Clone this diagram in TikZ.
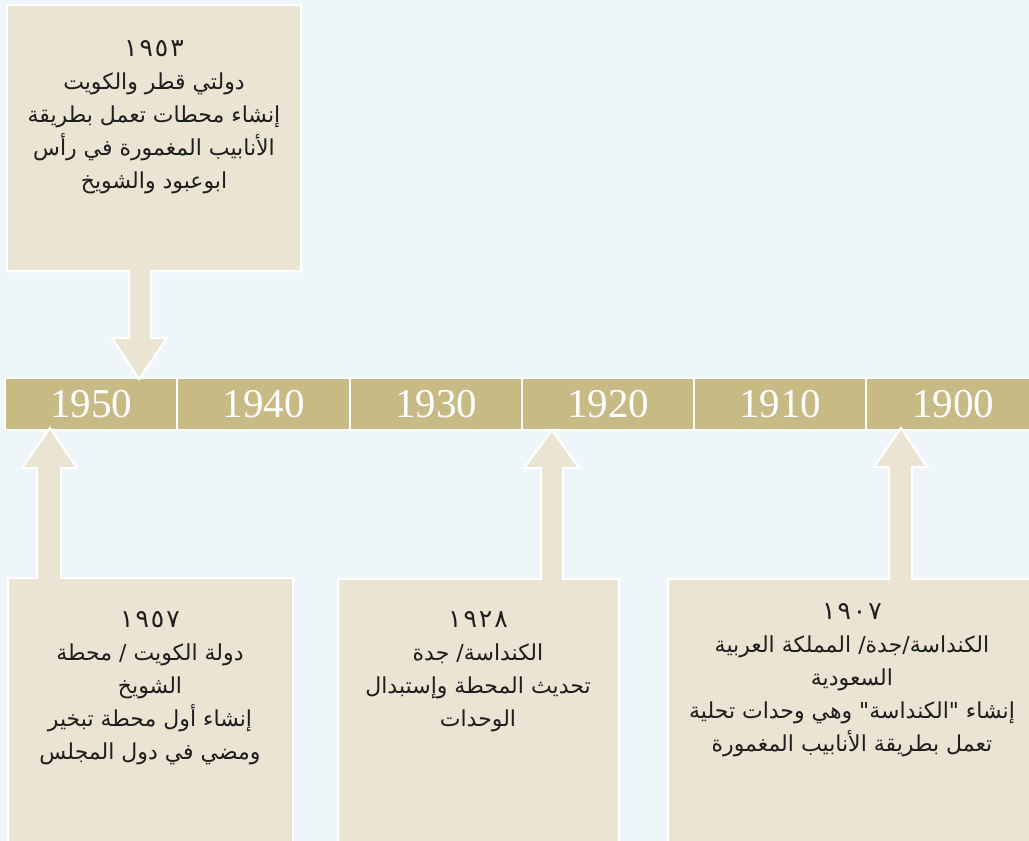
\documentclass[tikz,border=0pt]{standalone}
\usepackage{fontspec}
\TeXXeTstate=1
\newfontfamily\arabicfont[Script=Arabic]{DejaVu Sans}
\newfontfamily\yearfont{Liberation Serif}
\definecolor{bgc}{HTML}{EFF6FA}
\definecolor{boxc}{HTML}{EBE4D3}
\definecolor{barc}{HTML}{C8BA85}
\definecolor{txtc}{HTML}{1E1E1E}
\tikzset{
  seg/.style={draw=white, line width=2pt, fill=barc, inner sep=0pt, text=white,
    minimum height=52pt, font=\yearfont\fontsize{41}{41}\selectfont},
  callout/.style={fill=boxc, draw=white, line width=2pt, line join=miter},
  ar/.style={align=center, text=txtc, inner sep=0pt, font=\arabicfont\fontsize{22}{33}\selectfont}
}
\newcommand{\rl}[1]{\beginR #1\endR}
\newcommand{\yr}[1]{{\fontsize{25}{33}\selectfont\addfontfeatures{LetterSpace=8}#1}}
\begin{document}
\begin{tikzpicture}[x=1pt,y=-1pt]
\useasboundingbox (0,0) rectangle (1029,841);
\fill[bgc] (0,0) rectangle (1029,841);
\clip (0,0) rectangle (1029,841);
% timeline bar
\node[seg, minimum width=172pt] (s1950) at (91,404) {\raisebox{-2.5pt}{1950}};
\node[seg, minimum width=173pt] (s1940) at (263.5,404) {\raisebox{-2.5pt}{1940}};
\node[seg, minimum width=172pt] (s1930) at (436,404) {\raisebox{-2.5pt}{1930}};
\node[seg, minimum width=172pt] (s1920) at (608,404) {\raisebox{-2.5pt}{1920}};
\node[seg, minimum width=172pt] (s1910) at (780,404) {\raisebox{-2.5pt}{1910}};
\node[seg, minimum width=174pt] (s1900) at (953,404) {\raisebox{-2.5pt}{1900}};
% top callout with down arrow
\draw[callout] (7,5) -- (301,5) -- (301,271) -- (151,271) -- (151,338) -- (167,338)
  -- (139,379) -- (112,338) -- (129,338) -- (129,271) -- (7,271) -- cycle;
% bottom callouts with up arrows
\draw[callout] (8,578) -- (37,578) -- (37,468) -- (22,468) -- (50,428) -- (77,468)
  -- (61,468) -- (61,578) -- (293,578) -- (293,850) -- (8,850) -- cycle;
\draw[callout] (338,579) -- (541,579) -- (541,468) -- (524,468) -- (552,430) -- (579,468)
  -- (563,468) -- (563,579) -- (619,579) -- (619,850) -- (338,850) -- cycle;
\draw[callout] (668,579) -- (889,579) -- (889,467) -- (874,467) -- (901,428) -- (927,467)
  -- (912,467) -- (912,579) -- (1040,579) -- (1040,850) -- (668,850) -- cycle;
% texts
\node[ar] (t1953) at (154,117) {\yr{١٩٥٣}\\ \rl{دولتي قطر والكويت}\\ \rl{إنشاء محطات تعمل بطريقة}\\ \rl{الأنابيب المغمورة في رأس}\\ \rl{ابوعبود والشويخ}};
\node[ar] (t1957) at (150,688.5) {\yr{١٩٥٧}\\ \rl{دولة الكويت / محطة}\\ \rl{الشويخ}\\ \rl{إنشاء أول محطة تبخير}\\ \rl{ومضي في دول المجلس}};
\node[ar] (t1928) at (478,671.5) {\yr{١٩٢٨}\\ \rl{الكنداسة/ جدة}\\ \rl{تحديث المحطة وإستبدال}\\ \rl{الوحدات}};
\node[ar] (t1907) at (852,680.5) {\yr{١٩٠٧}\\ \rl{الكنداسة/جدة/ المملكة العربية}\\ \rl{السعودية}\\ \rl{إنشاء "الكنداسة" وهي وحدات تحلية}\\ \rl{تعمل بطريقة الأنابيب المغمورة}};
\end{tikzpicture}
\end{document}
